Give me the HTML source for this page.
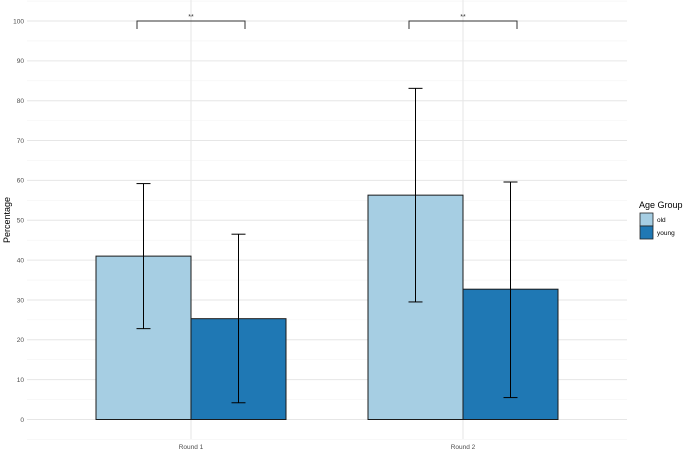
<!DOCTYPE html>
<html><head><meta charset="utf-8"><style>
body{margin:0;background:#fff}
svg text{font-family:"Liberation Sans",sans-serif}
</style></head><body>
<svg id="chart" width="683" height="451" xmlns="http://www.w3.org/2000/svg">
<g id="grid"></g>
<g id="bars"></g>
<g id="axes"></g>
<text transform="translate(10,220) rotate(-90)" text-anchor="middle" font-size="9" fill="#000">Percentage</text>
<g>
<text x="639" y="208" font-size="9" fill="#000">Age Group</text>
<rect x="640" y="213" width="13" height="13" fill="#a6cee3" stroke="#222" stroke-width="0.8"/>
<rect x="640" y="226" width="13" height="13" fill="#1f78b4" stroke="#222" stroke-width="0.8"/>
<text x="657" y="222" font-size="6.5" fill="#000">old</text>
<text x="657" y="235" font-size="6.5" fill="#000">young</text>
</g>
</svg>
<script>
const categories = ["Round 1", "Round 2"];
const groups = ["old", "young"];
const oldValues = [41.0, 56.3];
const youngValues = [25.3, 32.7];
const oldLow = [22.8, 29.5];
const oldHigh = [59.2, 83.1];
const youngLow = [4.2, 5.5];
const youngHigh = [46.5, 59.6];
const yTicks = [0,10,20,30,40,50,60,70,80,90,100];
const sigLabels = ["**", "**"];

const NS = "http://www.w3.org/2000/svg";
const X0 = 27, X1 = 627;
const y = v => 419.5 - v * 3.985;
const xCenter = i => 191 + i * 272;
const barW = 95;
function mk(tag, attrs, parent) {
  const e = document.createElementNS(NS, tag);
  for (const k in attrs) e.setAttribute(k, attrs[k]);
  parent.appendChild(e);
  return e;
}
const grid = document.getElementById('grid');
const bars = document.getElementById('bars');
const axes = document.getElementById('axes');
for (let v = -5; v <= 105; v += 5) {
  const major = v % 10 === 0;
  const l = mk('line', {x1: X0, x2: X1, y1: y(v), y2: y(v), stroke: major ? '#e6e6e6' : '#f3f3f3', 'stroke-width': major ? 1 : 0.6}, grid);
  
  
}
categories.forEach((c, i) => {
  const l = mk('line', {x1: xCenter(i), x2: xCenter(i), y1: 0, y2: 439, stroke: '#e6e6e6', 'stroke-width': 1}, grid);
  
  
  const t = mk('text', {x: xCenter(i), y: 449, 'text-anchor': 'middle', 'font-size': 6.5, fill: '#4d4d4d'}, axes);
  t.textContent = c;
  
  
});
yTicks.forEach(v => {
  const t = mk('text', {x: 24, y: y(v) + 2.3, 'text-anchor': 'end', 'font-size': 6.5, fill: '#4d4d4d'}, axes);
  t.textContent = v;
  
  
});
const series = [
  {vals: oldValues, lo: oldLow, hi: oldHigh, color: '#a6cee3', off: -1, name: 'old'},
  {vals: youngValues, lo: youngLow, hi: youngHigh, color: '#1f78b4', off: 0, name: 'young'}
];
categories.forEach((c, i) => {
  series.forEach(s => {
    const bx = xCenter(i) + s.off * barW;
    const r = mk('rect', {x: bx, y: y(s.vals[i]), width: barW, height: y(0) - y(s.vals[i]), fill: s.color, stroke: '#1a1a1a', 'stroke-width': 1}, bars);
    
    
    const cx = bx + barW / 2;
    const g = mk('g', {stroke: '#000', 'stroke-width': 1}, bars);
    
    
    mk('line', {x1: cx, x2: cx, y1: y(s.lo[i]), y2: y(s.hi[i])}, g);
    mk('line', {x1: cx - 7, x2: cx + 7, y1: y(s.lo[i]), y2: y(s.lo[i])}, g);
    mk('line', {x1: cx - 7, x2: cx + 7, y1: y(s.hi[i]), y2: y(s.hi[i])}, g);
  });
  const lx = xCenter(i) - 54, rx = xCenter(i) + 54;
  const b = mk('path', {d: `M${lx},${y(98)}V${y(100)}H${rx}V${y(98)}`, fill: 'none', stroke: '#333', 'stroke-width': 1}, bars);
  
  
  const st = mk('text', {x: xCenter(i), y: y(100) - 2, 'text-anchor': 'middle', 'font-size': 7, fill: '#333'}, bars);
  st.textContent = sigLabels[i];
  
  
});
</script>
</body></html>
